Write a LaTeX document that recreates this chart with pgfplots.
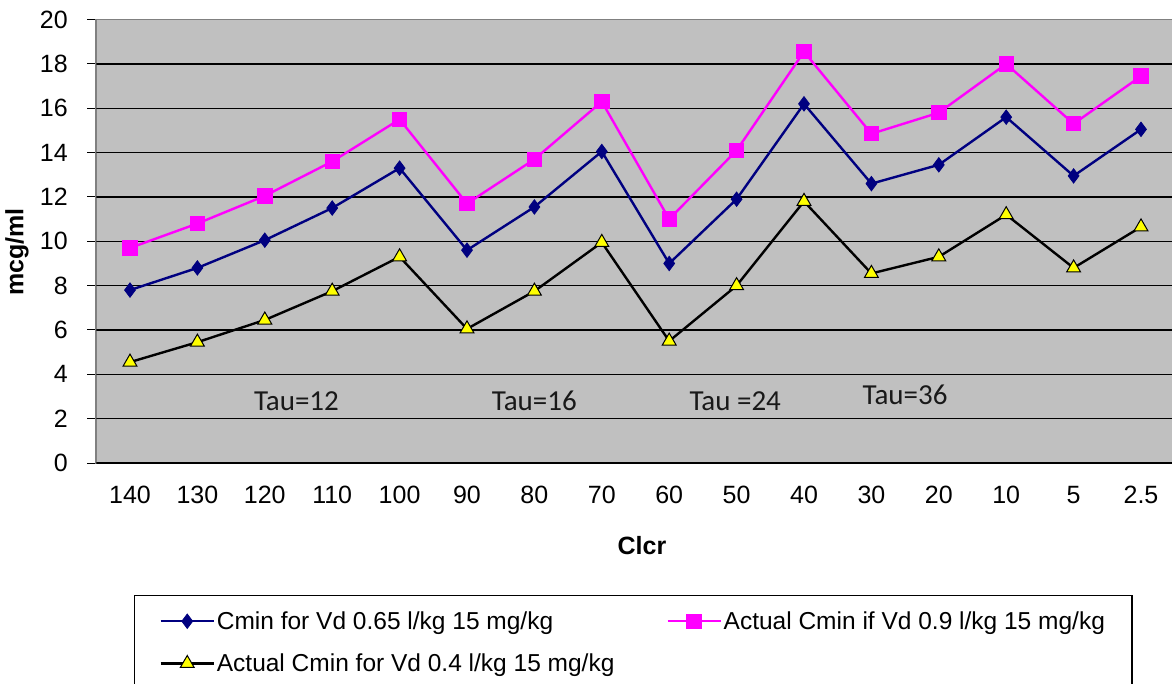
\documentclass[border=0pt]{standalone}
\usepackage{fontspec}
\setmainfont{Liberation Sans}
\newfontfamily\calibri{Carlito}
\usepackage{pgfplots}
\pgfplotsset{compat=1.18}

\definecolor{plotbg}{HTML}{C0C0C0}
\definecolor{navyline}{HTML}{000080}
\definecolor{magline}{HTML}{FF00FF}
\definecolor{triyellow}{HTML}{FFFF00}

\newcommand{\tickfont}{\fontsize{25}{30}\selectfont}
\newcommand{\legfont}{\fontsize{24.5}{29}\selectfont}
\newcommand{\taufont}{\calibri\fontsize{29}{34}\selectfont}

\begin{document}
\begin{tikzpicture}
\useasboundingbox (0,0) rectangle (1172pt,683pt);
\clip (0,0) rectangle (1172pt,683pt);
\begin{axis}[
  at={(96.3pt,220pt)}, anchor=south west,
  scale only axis, width=1078.4pt, height=443.4pt,
  xmin=-0.5, xmax=15.5, ymin=0, ymax=20,
  axis background/.style={fill=plotbg},
  axis line style={draw=black!50, line width=1.6pt},
  xtick={0,...,15},
  xticklabels={140,130,120,110,100,90,80,70,60,50,40,30,20,10,5,2.5},
  xtick style={draw=none},
  minor xtick={-0.5,0.5,...,15.5},
  minor tick length=8pt,
  minor x tick style={black, line width=1pt},
  ytick={0,2,...,20},
  ytick style={black, line width=1pt},
  major tick length=9pt,
  tick align=outside,
  xtick pos=bottom, ytick pos=left,
  /pgf/number format/assume math mode=true,
  ticklabel style={font=\tickfont, text=black},
  xticklabel style={yshift=-11pt},
  yticklabel style={xshift=-16pt},
  xlabel={\textbf{Clcr}},
  xlabel style={font=\tickfont, at={(axis description cs:0.506,-0.187)}, anchor=center},
  ylabel={\textbf{mcg/ml}},
  ylabel style={font=\tickfont, at={(axis description cs:-0.0735,0.476)}, anchor=center},
  legend columns=2,
  legend style={
    at={(axis description cs:0.035,-0.2977)}, anchor=north west,
    draw=black, line width=1.2pt, fill=white,
    inner xsep=25pt, inner ysep=14pt,
    font=\legfont,
    row sep=19pt,
    /tikz/every even column/.append style={column sep=50pt},
  },
  legend cell align=left,
  legend image code/.code={
    \draw[mark repeat=2, mark phase=2, line width=2.2pt]
      plot coordinates {(0pt,0pt) (26.5pt,0pt) (53pt,0pt)};
  },
]
% horizontal gridlines
\pgfplotsinvokeforeach{0,2,...,18}{
  \draw[black, line width=1.3pt] (axis cs:-0.5,#1) -- (axis cs:15.5,#1);
}

\addplot[navyline, line width=2.4pt, mark=diamond*, mark size=7.2pt,
  mark options={fill=navyline, draw=navyline, line width=0.8pt}]
  coordinates {
  (0,7.8) (1,8.8) (2,10.05) (3,11.5) (4,13.3) (5,9.6) (6,11.55) (7,14.05)
  (8,9.0) (9,11.9) (10,16.2) (11,12.6) (12,13.45) (13,15.6) (14,12.95) (15,15.05)
};
\addlegendentry{Cmin for Vd 0.65 l/kg 15 mg/kg}

\addplot[magline, line width=2.4pt, mark=square*, mark size=6.5pt,
  mark options={fill=magline, draw=magline}]
  coordinates {
  (0,9.7) (1,10.8) (2,12.05) (3,13.6) (4,15.5) (5,11.7) (6,13.7) (7,16.3)
  (8,11.0) (9,14.1) (10,18.55) (11,14.85) (12,15.8) (13,18.0) (14,15.3) (15,17.45)
};
\addlegendentry{Actual Cmin if Vd 0.9 l/kg 15 mg/kg}

\addplot[black, line width=2.4pt, mark=triangle*, mark size=8pt,
  mark options={fill=triyellow, draw=black, line width=1pt}]
  coordinates {
  (0,4.55) (1,5.45) (2,6.45) (3,7.75) (4,9.3) (5,6.05) (6,7.75) (7,9.95)
  (8,5.5) (9,8.0) (10,11.8) (11,8.55) (12,9.3) (13,11.2) (14,8.8) (15,10.65)
};
\addlegendentry{Actual Cmin for Vd 0.4 l/kg 15 mg/kg}

% dosing-interval annotations
\node[anchor=base, font=\taufont, text=black!90] at (axis cs:2.47,2.39) {Tau=12};
\node[anchor=base, font=\taufont, text=black!90] at (axis cs:6.0,2.39) {Tau=16};
\node[anchor=base, font=\taufont, text=black!90] at (axis cs:8.98,2.39) {Tau =24};
\node[anchor=base, font=\taufont, text=black!90] at (axis cs:11.5,2.62) {Tau=36};
\end{axis}
\end{tikzpicture}
\end{document}
